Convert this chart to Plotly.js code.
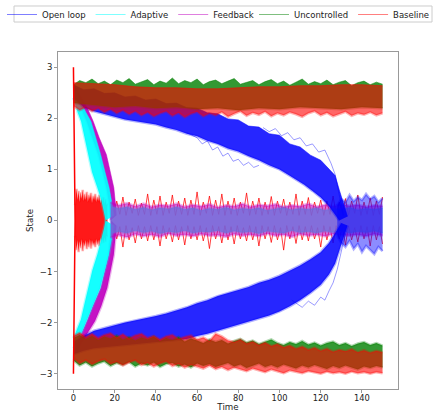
<!DOCTYPE html>
<html>
<head>
<meta charset="utf-8">
<script src="https://cdn.plot.ly/plotly-3.0.1.min.js"></script>
<style>html,body{margin:0;padding:0;background:#fff;}#chart{width:440px;height:412px;}</style>
</head>
<body>
<div id="chart"></div>
<script>
// ---------- data ----------
const seriesNames = ["Open loop", "Adaptive", "Feedback", "Uncontrolled", "Baseline"];
const xTicks = [0, 20, 40, 60, 80, 100, 120, 140];
const yTicks = [-3, -2, -1, 0, 1, 2, 3];

// time grid of the noisy outer bands
const T3 = [0,3,6,9,12,15,18,21,24,27,30,33,36,39,42,45,48,51,54,57,60,63,66,69,72,75,78,81,84,87,90,93,96,99,102,105,108,111,114,117,120,123,126,129,132,135,138,141,144,147,150];
const T10 = [0,10,20,30,40,50,60,70,80,90,100,110,120,130,140,150];

// Uncontrolled (green) upper band
const greenTopUp = [2.66,2.74,2.70,2.77,2.68,2.73,2.66,2.75,2.70,2.78,2.67,2.72,2.76,2.66,2.73,2.69,2.79,2.68,2.74,2.70,2.77,2.66,2.72,2.75,2.68,2.73,2.78,2.67,2.71,2.74,2.66,2.72,2.76,2.68,2.73,2.65,2.71,2.77,2.67,2.72,2.68,2.75,2.66,2.71,2.74,2.64,2.70,2.73,2.66,2.71,2.67];
const greenTopLow = [2.30,2.26,2.22,2.24,2.20,2.22,2.18,2.20,2.16,2.20,2.18,2.22,2.20,2.18,2.22,2.20];
// Uncontrolled (green) lower band
const greenBotUp = [-2.30,-2.24,-2.32,-2.26,-2.34,-2.27,-2.31,-2.25,-2.33,-2.28,-2.35,-2.29,-2.33,-2.27,-2.36,-2.30,-2.34,-2.28,-2.37,-2.31,-2.35,-2.40,-2.33,-2.38,-2.34,-2.41,-2.36,-2.32,-2.39,-2.35,-2.42,-2.37,-2.33,-2.40,-2.44,-2.38,-2.42,-2.36,-2.43,-2.39,-2.45,-2.40,-2.37,-2.44,-2.40,-2.46,-2.41,-2.38,-2.44,-2.40,-2.45];
const greenBotLow = [-2.74,-2.84,-2.78,-2.86,-2.80,-2.76,-2.85,-2.79,-2.83,-2.77,-2.86,-2.80,-2.84,-2.78,-2.87,-2.81,-2.79,-2.86,-2.82,-2.88,-2.80,-2.85,-2.81,-2.87,-2.83,-2.79,-2.86,-2.82,-2.89,-2.84,-2.80,-2.87,-2.83,-2.88,-2.82,-2.86,-2.90,-2.84,-2.88,-2.83,-2.87,-2.91,-2.85,-2.89,-2.84,-2.88,-2.92,-2.86,-2.89,-2.85,-2.88];

// Baseline (red) upper / lower bands
const redTopUp = [2.70,2.68,2.66,2.62,2.60,2.60,2.58,2.58,2.60,2.62,2.62,2.64,2.64,2.66,2.66,2.64];
const redTopLow = [2.24,2.16,2.22,2.14,2.20,2.12,2.18,2.10,2.16,2.08,2.14,2.06,2.12,2.04,2.10,2.14,2.05,2.11,2.02,2.09,2.13,2.04,2.10,2.06,2.12,2.03,2.09,2.14,2.05,2.11,2.07,2.13,2.04,2.10,2.06,2.12,2.08,2.03,2.10,2.14,2.06,2.11,2.04,2.09,2.13,2.05,2.10,2.07,2.12,2.06,2.10];
const redBotUp = [-2.26,-2.20,-2.28,-2.22,-2.30,-2.24,-2.21,-2.29,-2.23,-2.31,-2.25,-2.22,-2.30,-2.26,-2.33,-2.27,-2.24,-2.32,-2.28,-2.25,-2.33,-2.29,-2.36,-2.22,-2.27,-2.35,-2.38,-2.33,-2.41,-2.37,-2.44,-2.39,-2.46,-2.42,-2.48,-2.45,-2.51,-2.47,-2.53,-2.49,-2.55,-2.51,-2.57,-2.53,-2.56,-2.52,-2.58,-2.54,-2.59,-2.55,-2.58];
const redBotLow = [-2.70,-2.80,-2.74,-2.82,-2.76,-2.72,-2.81,-2.77,-2.84,-2.78,-2.74,-2.83,-2.79,-2.86,-2.80,-2.76,-2.85,-2.81,-2.88,-2.83,-2.86,-2.90,-2.84,-2.91,-2.87,-2.93,-2.88,-2.92,-2.95,-2.90,-2.94,-2.97,-2.92,-2.96,-2.99,-2.94,-2.97,-2.99,-2.95,-2.98,-3.00,-2.96,-2.99,-2.97,-3.00,-2.96,-2.99,-2.97,-3.00,-2.97,-2.99];
// Baseline start: trajectories from +-3 collapsing to 0
const redStartT = [0, 0.8, 0];
const redStartV = [3.0, 0.0, -3.0];
// Baseline oscillation near zero, early part
const Tr1 = [0.8,1.5,2,2.5,3,3.5,4,4.5,5,5.5,6,6.5,7,7.5,8,8.5,9,9.5,10,10.5,11,11.5,12,12.5,13,13.5,14,14.5,15,15.5,16,16.5];
const redZ1Up = [0.30,0.62,0.40,0.58,0.36,0.55,0.42,0.60,0.38,0.52,0.40,0.56,0.36,0.50,0.42,0.54,0.34,0.48,0.40,0.52,0.36,0.46,0.38,0.50,0.34,0.44,0.36,0.46,0.32,0.42,0.30,0.34];
const redZ1Low = [-0.30,-0.58,-0.38,-0.62,-0.40,-0.54,-0.36,-0.60,-0.42,-0.50,-0.38,-0.56,-0.40,-0.52,-0.36,-0.55,-0.38,-0.48,-0.42,-0.52,-0.36,-0.47,-0.38,-0.50,-0.34,-0.45,-0.36,-0.44,-0.32,-0.42,-0.30,-0.32];
// Baseline spikes near zero, later part (peaks and troughs of the oscillating traces)
const Tr2 = [18,19.5,21,22.5,24,25.5,27,28.5,30,31.5,33,34.5,36,37.5,39,40.5,42,43.5,45,46.5,48,49.5,51,52.5,54,55.5,57,58.5,60,61.5,63,64.5,66,67.5,69,70.5,72,73.5,75,76.5,78,79.5,81,82.5,84,85.5,87,88.5,90,91.5,93,94.5,96,97.5,99,100.5,102,103.5,105,106.5,108,109.5,111,112.5,114,115.5,117,118.5,120,121.5,123,124.5,126,127.5,129,130.5,132,133.5,135,136.5,138,139.5,141,142.5,144,145.5,147,148.5,150];
const redZ2Up = [0.50,0.10,0.38,0.12,0.46,0.10,0.36,0.14,0.42,0.10,0.34,0.12,0.52,0.10,0.40,0.12,0.48,0.10,0.36,0.14,0.50,0.10,0.38,0.12,0.44,0.10,0.40,0.12,0.56,0.10,0.36,0.14,0.48,0.10,0.40,0.12,0.52,0.10,0.38,0.12,0.44,0.10,0.36,0.14,0.54,0.10,0.38,0.12,0.44,0.10,0.36,0.12,0.47,0.10,0.38,0.14,0.42,0.10,0.36,0.12,0.52,0.10,0.38,0.12,0.45,0.10,0.36,0.14,0.40,0.10,0.38,0.12,0.48,0.10,0.36,0.12,0.43,0.10,0.38,0.14,0.50,0.10,0.36,0.12,0.44,0.10,0.38,0.12,0.46];
const redZ2Low = [-0.46,-0.10,-0.36,-0.12,-0.52,-0.10,-0.38,-0.14,-0.44,-0.10,-0.36,-0.12,-0.40,-0.10,-0.38,-0.12,-0.50,-0.10,-0.36,-0.14,-0.42,-0.10,-0.38,-0.12,-0.48,-0.10,-0.36,-0.12,-0.38,-0.10,-0.40,-0.14,-0.55,-0.10,-0.36,-0.12,-0.44,-0.10,-0.38,-0.12,-0.46,-0.10,-0.36,-0.14,-0.40,-0.10,-0.38,-0.12,-0.50,-0.10,-0.36,-0.12,-0.43,-0.10,-0.38,-0.14,-0.58,-0.10,-0.36,-0.12,-0.45,-0.10,-0.38,-0.12,-0.40,-0.10,-0.36,-0.14,-0.52,-0.10,-0.38,-0.12,-0.44,-0.10,-0.36,-0.12,-0.48,-0.10,-0.38,-0.14,-0.42,-0.10,-0.36,-0.12,-0.50,-0.10,-0.38,-0.12,-0.46];

// Open loop (blue)
const blueOutT = [0,5,10,15,20,25,30,35,40,45,50,55,60,65,70,75,80,85,90,95,100,105,110,115,120,124,127,129,131,133];
const blueUpOut = [2.66,2.56,2.58,2.49,2.50,2.42,2.44,2.36,2.38,2.29,2.30,2.21,2.20,2.11,2.09,1.99,1.97,1.85,1.83,1.70,1.67,1.50,1.44,1.28,1.18,1.02,0.88,0.60,0.36,0.08];
const blueUpInT = [0,5,10,15,20,25,30,35,40,45,50,55,60,65,70,75,80,85,90,95,100,104,108,112,116,120,124,127,129];
const blueUpIn = [2.40,2.22,2.14,2.08,2.03,1.98,1.95,1.91,1.88,1.82,1.77,1.70,1.65,1.56,1.50,1.41,1.35,1.26,1.18,1.08,1.00,0.90,0.80,0.70,0.58,0.45,0.28,0.12,0.0];
const blueLoInT = [0,5,10,15,20,25,30,35,40,45,50,55,60,65,70,75,80,85,90,95,100,105,110,115,120,124,127,130];
const blueLoIn = [-2.38,-2.26,-2.16,-2.10,-2.05,-2.00,-1.96,-1.91,-1.87,-1.82,-1.76,-1.70,-1.62,-1.56,-1.48,-1.42,-1.36,-1.30,-1.22,-1.16,-1.08,-0.98,-0.88,-0.76,-0.62,-0.44,-0.24,-0.05];
const blueLoOut = [-2.62,-2.55,-2.50,-2.48,-2.45,-2.44,-2.42,-2.40,-2.38,-2.36,-2.33,-2.32,-2.26,-2.22,-2.16,-2.10,-2.04,-1.98,-1.92,-1.86,-1.78,-1.68,-1.56,-1.42,-1.26,-1.06,-0.84,-0.60,-0.34,-0.10];
const blueZeroT = [128,130,132,134,136,138,140,142,144,146,148,150];
const blueZeroUp = [0.30,0.42,0.36,0.50,0.38,0.46,0.40,0.52,0.42,0.48,0.36,0.44];
const blueZeroLow = [-0.30,-0.44,-0.52,-0.40,-0.56,-0.46,-0.62,-0.50,-0.58,-0.66,-0.52,-0.60];
// a few straying open-loop trajectories
const blueStray1T = [55,60,62.5,65,67.5,70,72.5,75,77.5,80,82.5,85,87.5,90];
const blueStray1 = [1.72,1.62,1.50,1.56,1.38,1.44,1.26,1.32,1.16,1.20,1.08,1.14,1.04,1.08];
const blueStray2T = [92,95,98,101,104,107,110,113,116,119,122,125,127,129,131];
const blueStray2 = [1.82,1.74,1.80,1.66,1.72,1.58,1.62,1.46,1.50,1.34,1.38,1.12,0.90,0.50,0.10];
const blueStray3T = [106,108,111,114,117,120,122,124,126,128,130,132];
const blueStray3 = [-1.56,-1.62,-1.70,-1.58,-1.66,-1.50,-1.56,-1.38,-1.22,-0.96,-0.62,-0.25];

// Adaptive (cyan)
const cyanUpOutT = [0,3,6,8.5,11,13.2,15.3,17.3,18.6,19.6];
const cyanUpOut = [2.60,2.35,2.12,1.94,1.62,1.29,0.95,0.64,0.36,0.10];
const cyanUpInT = [0,2,3.7,5.5,6.9,9,11.6,13.5,14.8,15.6];
const cyanUpIn = [2.40,2.12,1.94,1.60,1.29,0.95,0.64,0.40,0.16,0.0];
const cyanLoOutT = [0,2,4,6.5,9.5,13,15,17.2,18.6,19.6];
const cyanLoOut = [-2.50,-2.38,-2.20,-1.97,-1.66,-1.32,-1.00,-0.67,-0.36,-0.10];
const cyanLoInT = [0,2,3.6,5.4,7,9.2,11.6,13.4,14.8,15.6];
const cyanLoIn = [-2.30,-2.08,-1.94,-1.62,-1.32,-0.97,-0.66,-0.40,-0.16,0.0];
const Tz = [18,22,26,30,34,38,42,46,50,54,58,62,66,70,74,78,82,86,90,94,98,102,106,110,114,118,122,126,130,134,138,142,146,150];
const cyanZeroUp = [0.28,0.24,0.27,0.22,0.26,0.21,0.25,0.23,0.27,0.22,0.25,0.20,0.24,0.22,0.26,0.21,0.24,0.22,0.25,0.20,0.23,0.26,0.21,0.24,0.22,0.25,0.20,0.24,0.22,0.26,0.21,0.24,0.22,0.25];
const cyanZeroLow = [-0.26,-0.22,-0.25,-0.20,-0.24,-0.21,-0.26,-0.22,-0.24,-0.20,-0.25,-0.22,-0.23,-0.20,-0.25,-0.21,-0.24,-0.22,-0.26,-0.21,-0.23,-0.25,-0.20,-0.24,-0.22,-0.25,-0.21,-0.24,-0.20,-0.25,-0.22,-0.24,-0.21,-0.25];

// Feedback (magenta)
const magUpOutT = [1,4,7,9.6,12.5,16,17.8,19.6,20.3,20.8];
const magUpOut = [2.62,2.40,2.18,1.94,1.62,1.29,0.95,0.64,0.36,0.10];
const magUpInT = [0.5,3.5,6.4,9.5,12,14.2,16,17,17.6,18];
const magUpIn = [2.45,2.22,1.94,1.60,1.29,0.95,0.64,0.40,0.14,0.0];
const magLoOutT = [1.5,4,7,10.5,13.5,16.4,18,19.6,20.3,20.8];
const magLoOut = [-2.60,-2.40,-2.20,-1.97,-1.68,-1.32,-1.00,-0.67,-0.36,-0.10];
const magLoInT = [1,3,6.5,9.5,13.2,15.2,17,17.8,18.3];
const magLoIn = [-2.43,-2.28,-1.97,-1.66,-1.32,-0.98,-0.67,-0.34,0.0];
const magZeroUp = [0.36,0.30,0.34,0.28,0.33,0.27,0.31,0.29,0.33,0.27,0.31,0.28,0.32,0.26,0.30,0.28,0.33,0.27,0.31,0.29,0.32,0.27,0.30,0.28,0.33,0.27,0.31,0.28,0.32,0.29,0.31,0.27,0.30,0.29];
const magZeroLow = [-0.34,-0.29,-0.33,-0.27,-0.31,-0.28,-0.32,-0.26,-0.30,-0.28,-0.31,-0.27,-0.30,-0.29,-0.32,-0.27,-0.30,-0.28,-0.31,-0.26,-0.30,-0.28,-0.32,-0.27,-0.30,-0.28,-0.31,-0.27,-0.29,-0.30,-0.28,-0.31,-0.27,-0.30];

// ---------- styling ----------
const RGB = {blue:[0,0,255], cyan:[0,255,255], mag:[191,0,191], green:[0,128,0], red:[255,0,0]};
function rgba(c, a){ return 'rgba(' + c[0] + ',' + c[1] + ',' + c[2] + ',' + a + ')'; }

// a band of many overlapping trajectories: soft (wide, translucent) edges + translucent fill
function band(xa, ya, xb, yb, c, fillA, group, leg, legendName, rank){
  const up = {x: xa, y: ya, mode: 'lines',
    line: legendName ? {color: rgba(c, 0.5), width: 1} : {color: rgba(c, 0.3), width: 2.5},
    legendgroup: group, legend: leg, showlegend: !!legendName, name: legendName || group, hoverinfo: 'skip'};
  if (legendName) up.legendrank = rank;
  const lo = {x: xb, y: yb, mode: 'lines', fill: 'tonexty', fillcolor: rgba(c, fillA),
    line: {color: rgba(c, 0.3), width: 2.5}, legendgroup: group, legend: leg, showlegend: false, name: group, hoverinfo: 'skip'};
  return [up, lo];
}
function line(x, y, c, a, w, group, leg){
  return {x: x, y: y, mode: 'lines', line: {color: rgba(c, a), width: w}, legendgroup: group, legend: leg,
    showlegend: false, name: group, hoverinfo: 'skip'};
}
const L1 = 'legend', L2 = 'legend2';

const traces = [].concat(
  band(Tr1, redZ1Up, Tr1, redZ1Low, RGB.red, 0.9, 'base', L2),
  [line(Tr2, redZ2Up, RGB.red, 0.75, 1, 'base', L2), line(Tr2, redZ2Low, RGB.red, 0.75, 1, 'base', L2)],
  band(magUpOutT, magUpOut, magUpInT, magUpIn, RGB.mag, 0.92, 'fb', L1, seriesNames[2], 3),
  band(magLoOutT, magLoOut, magLoInT, magLoIn, RGB.mag, 0.92, 'fb', L1),
  band(cyanUpOutT, cyanUpOut, cyanUpInT, cyanUpIn, RGB.cyan, 0.92, 'ad', L1, seriesNames[1], 2),
  band(cyanLoOutT, cyanLoOut, cyanLoInT, cyanLoIn, RGB.cyan, 0.92, 'ad', L1),
  band(Tz, cyanZeroUp, Tz, cyanZeroLow, RGB.cyan, 0.8, 'ad', L1),
  band(Tz, magZeroUp, Tz, magZeroLow, RGB.mag, 0.57, 'fb', L1),
  band(blueOutT, blueUpOut, blueUpInT, blueUpIn, RGB.blue, 0.85, 'ol', L1, seriesNames[0], 1),
  band(blueOutT, blueLoOut, blueLoInT, blueLoIn, RGB.blue, 0.85, 'ol', L1),
  band(blueZeroT, blueZeroUp, blueZeroT, blueZeroLow, RGB.blue, 0.45, 'ol', L1),
  [line(blueStray1T, blueStray1, RGB.blue, 0.5, 0.8, 'ol', L1),
   line(blueStray2T, blueStray2, RGB.blue, 0.5, 0.8, 'ol', L1),
   line(blueStray3T, blueStray3, RGB.blue, 0.5, 0.8, 'ol', L1)],
  band(T3, greenTopUp, T10, greenTopLow, RGB.green, 0.8, 'unc', L2, seriesNames[3], 4),
  band(T3, greenBotUp, T3, greenBotLow, RGB.green, 0.8, 'unc', L2),
  band(T10, redTopUp, T3, redTopLow, RGB.red, 0.6, 'base', L2, seriesNames[4], 5),
  band(T3, redBotUp, T3, redBotLow, RGB.red, 0.6, 'base', L2),
  [line(redStartT, redStartV, RGB.red, 1, 1.5, 'base', L2)]
);

const FONT = 'DejaVu Sans, Verdana, sans-serif';
const legendBase = {orientation: 'h', xref: 'container', yref: 'container', xanchor: 'left',
  y: 1, yanchor: 'top', bgcolor: 'rgba(0,0,0,0)', borderwidth: 0,
  font: {family: FONT, size: 8.5, color: '#222'}, itemwidth: 30, traceorder: 'normal'};
const layout = {
  width: 440, height: 412,
  margin: {l: 58, r: 42, t: 52, b: 23},
  paper_bgcolor: '#ffffff', plot_bgcolor: '#ffffff',
  font: {family: FONT, size: 8.5, color: '#222'},
  showlegend: true,
  legend: Object.assign({}, legendBase, {x: 2 / 440}),
  legend2: Object.assign({}, legendBase, {x: 254 / 440}),
  shapes: [{type: 'rect', xref: 'paper', yref: 'paper', x0: -0.1294, x1: 1.1, y0: 1.0890, y1: 1.1365,
    line: {color: '#cccccc', width: 1}, fillcolor: 'rgba(255,255,255,0)', layer: 'above'}],
  xaxis: {range: [-7.5, 157.5], tickvals: xTicks, ticktext: xTicks.map(String), ticks: 'outside', ticklen: 3,
    tickcolor: '#999', showline: true, mirror: true, linecolor: '#999', linewidth: 1,
    showgrid: false, zeroline: false, tickfont: {family: FONT, size: 8.3, color: '#222'},
    ticklabelstandoff: -2,
    title: {text: 'Time', font: {family: FONT, size: 8.7, color: '#222'}, standoff: 7}, automargin: false},
  yaxis: {range: [-3.3, 3.3], tickvals: yTicks, ticks: 'outside', ticklen: 3,
    tickcolor: '#999', showline: true, mirror: true, linecolor: '#999', linewidth: 1,
    showgrid: false, zeroline: false, tickfont: {family: FONT, size: 8.5, color: '#222'},
    title: {text: 'State', font: {family: FONT, size: 8.7, color: '#222'}, standoff: 4}, automargin: false}
};

Plotly.newPlot('chart', traces, layout, {staticPlot: true, displayModeBar: false});
</script>
</body>
</html>
